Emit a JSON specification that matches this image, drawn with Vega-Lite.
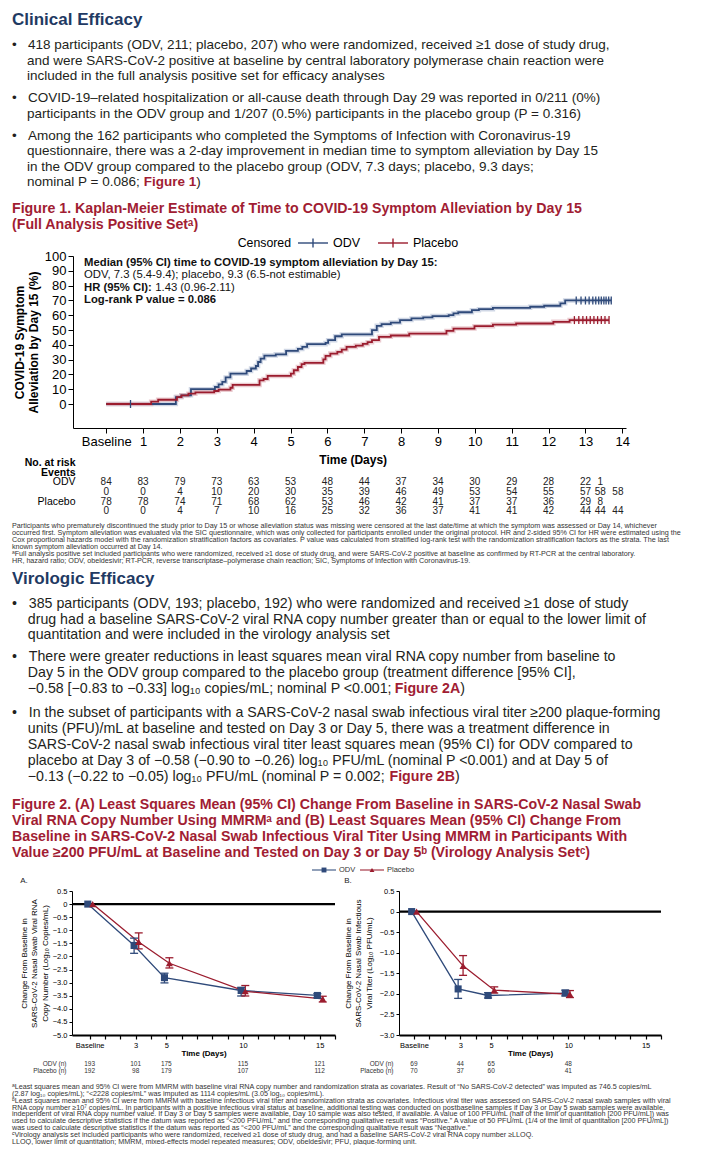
{
"$schema": "https://vega.github.io/schema/vega-lite/v6.json",
"background": "white",
"padding": {"left": 12, "top": 6, "right": 0, "bottom": 0},
"spacing": 0,
"resolve": {"scale": {"color": "independent", "shape": "independent"}, "legend": {"color": "independent", "shape": "independent"}},
"config": {
  "font": "Liberation Sans",
  "view": {"stroke": null},
  "axis": {"grid": false, "domainColor": "#000", "tickColor": "#000", "labelColor": "#000", "titleColor": "#000", "labelFont": "Liberation Sans", "titleFont": "Liberation Sans", "labelOverlap": false, "labelFlush": false},
  "legend": {"labelFont": "Liberation Sans", "titleFont": "Liberation Sans"},
  "title": {"font": "Liberation Sans"}
},
"datasets": {
  "h1": [{"i": 1, "t": "Clinical Efficacy"}],
  "p1": [
    {"i": 1, "t": "•\u00a0\u00a0\u00a0418 participants (ODV, 211; placebo, 207) who were randomized, received ≥1 dose of study drug,"},
    {"i": 2, "t": "\u200b\u00a0\u00a0\u00a0\u00a0and were SARS-CoV-2 positive at baseline by central laboratory polymerase chain reaction were"},
    {"i": 3, "t": "\u200b\u00a0\u00a0\u00a0\u00a0included in the full analysis positive set for efficacy analyses"}
  ],
  "p2": [
    {"i": 1, "t": "•\u00a0\u00a0\u00a0COVID-19–related hospitalization or all-cause death through Day 29 was reported in 0/211 (0%)"},
    {"i": 2, "t": "\u200b\u00a0\u00a0\u00a0\u00a0participants in the ODV group and 1/207 (0.5%) participants in the placebo group (P = 0.316)"}
  ],
  "p3": [
    {"i": 1, "t": "•\u00a0\u00a0\u00a0Among the 162 participants who completed the Symptoms of Infection with Coronavirus-19"},
    {"i": 2, "t": "\u200b\u00a0\u00a0\u00a0\u00a0questionnaire, there was a 2-day improvement in median time to symptom alleviation by Day 15"},
    {"i": 3, "t": "\u200b\u00a0\u00a0\u00a0\u00a0in the ODV group compared to the placebo group (ODV, 7.3 days; placebo, 9.3 days;"},
    {"i": 4, "t": "\u200b\u00a0\u00a0\u00a0\u00a0nominal P = 0.086;"}
  ],
  "f1t": [
    {"i": 1, "t": "Figure 1. Kaplan-Meier Estimate of Time to COVID-19 Symptom Alleviation by Day 15"},
    {"i": 2, "t": "(Full Analysis Positive Setᵃ)"}
  ],
  "fn1": [
    {"i": 1, "t": "Participants who prematurely discontinued the study prior to Day 15 or whose alleviation status was missing were censored at the last date/time at which the symptom was assessed or Day 14, whichever"},
    {"i": 2, "t": "occurred first. Symptom alleviation was evaluated via the SIC questionnaire, which was only collected for participants enrolled under the original protocol. HR and 2-sided 95% CI for HR were estimated using the"},
    {"i": 3, "t": "Cox proportional hazards model with the randomization stratification factors as covariates. P value was calculated from stratified log-rank test with the randomization stratification factors as the strata. The last"},
    {"i": 4, "t": "known symptom alleviation occurred at Day 14."},
    {"i": 5, "t": "ᵃFull analysis positive set included participants who were randomized, received ≥1 dose of study drug, and were SARS-CoV-2 positive at baseline as confirmed by RT-PCR at the central laboratory."},
    {"i": 6, "t": "HR, hazard ratio; ODV, obeldesivir; RT-PCR, reverse transcriptase–polymerase chain reaction; SIC, Symptoms of Infection with Coronavirus-19."}
  ],
  "h2": [{"i": 1, "t": "Virologic Efficacy"}],
  "p4": [
    {"i": 1, "t": "•\u00a0\u00a0\u00a0385 participants (ODV, 193; placebo, 192) who were randomized and received ≥1 dose of study"},
    {"i": 2, "t": "\u200b\u00a0\u00a0\u00a0\u00a0drug had a baseline SARS-CoV-2 viral RNA copy number greater than or equal to the lower limit of"},
    {"i": 3, "t": "\u200b\u00a0\u00a0\u00a0\u00a0quantitation and were included in the virology analysis set"}
  ],
  "p5": [
    {"i": 1, "t": "•\u00a0\u00a0\u00a0There were greater reductions in least squares mean viral RNA copy number from baseline to"},
    {"i": 2, "t": "\u200b\u00a0\u00a0\u00a0\u00a0Day 5 in the ODV group compared to the placebo group (treatment difference [95% CI],"},
    {"i": 3, "t": "\u200b\u00a0\u00a0\u00a0\u00a0−0.58 [−0.83 to −0.33] log₁₀ copies/mL; nominal P <0.001;"}
  ],
  "p6": [
    {"i": 1, "t": "•\u00a0\u00a0\u00a0In the subset of participants with a SARS-CoV-2 nasal swab infectious viral titer ≥200 plaque-forming"},
    {"i": 2, "t": "\u200b\u00a0\u00a0\u00a0\u00a0units (PFU)/mL at baseline and tested on Day 3 or Day 5, there was a treatment difference in"},
    {"i": 3, "t": "\u200b\u00a0\u00a0\u00a0\u00a0SARS-CoV-2 nasal swab infectious viral titer least squares mean (95% CI) for ODV compared to"},
    {"i": 4, "t": "\u200b\u00a0\u00a0\u00a0\u00a0placebo at Day 3 of −0.58 (−0.90 to −0.26) log₁₀ PFU/mL (nominal P <0.001) and at Day 5 of"},
    {"i": 5, "t": "\u200b\u00a0\u00a0\u00a0\u00a0−0.13 (−0.22 to −0.05) log₁₀ PFU/mL (nominal P = 0.002;"}
  ],
  "f2t": [
    {"i": 1, "t": "Figure 2. (A) Least Squares Mean (95% CI) Change From Baseline in SARS-CoV-2 Nasal Swab"},
    {"i": 2, "t": "Viral RNA Copy Number Using MMRMᵃ and (B) Least Squares Mean (95% CI) Change From"},
    {"i": 3, "t": "Baseline in SARS-CoV-2 Nasal Swab Infectious Viral Titer Using MMRM in Participants With"},
    {"i": 4, "t": "Value ≥200 PFU/mL at Baseline and Tested on Day 3 or Day 5ᵇ (Virology Analysis Setᶜ)"}
  ],
  "fn2": [
    {"i": 1, "t": "ᵃLeast squares mean and 95% CI were from MMRM with baseline viral RNA copy number and randomization strata as covariates. Result of “No SARS-CoV-2 detected” was imputed as 746.5 copies/mL"},
    {"i": 2, "t": "(2.87 log₁₀ copies/mL); “<2228 copies/mL” was imputed as 1114 copies/mL (3.05 log₁₀ copies/mL)."},
    {"i": 3, "t": "ᵇLeast squares mean and 95% CI were from MMRM with baseline infectious viral titer and randomization strata as covariates. Infectious viral titer was assessed on SARS-CoV-2 nasal swab samples with viral"},
    {"i": 4, "t": "RNA copy number ≥10⁷ copies/mL. In participants with a positive infectious viral status at baseline, additional testing was conducted on postbaseline samples if Day 3 or Day 5 swab samples were available,"},
    {"i": 5, "t": "independent of viral RNA copy number value. If Day 3 or Day 5 samples were available, Day 10 sample was also tested, if available. A value of 100 PFU/mL (half of the limit of quantitation [200 PFU/mL]) was"},
    {"i": 6, "t": "used to calculate descriptive statistics if the datum was reported as “<200 PFU/mL” and the corresponding qualitative result was “Positive.” A value of 50 PFU/mL (1/4 of the limit of quantitation [200 PFU/mL])"},
    {"i": 7, "t": "was used to calculate descriptive statistics if the datum was reported as “<200 PFU/mL” and the corresponding qualitative result was “Negative.”"},
    {"i": 8, "t": "ᶜVirology analysis set included participants who were randomized, received ≥1 dose of study drug, and had a baseline SARS-CoV-2 viral RNA copy number ≥LLOQ."},
    {"i": 9, "t": "LLOQ, lower limit of quantitation; MMRM, mixed-effects model repeated measures; ODV, obeldesivir; PFU, plaque-forming unit."}
  ],
  "km": [
    {"g":"ODV","t":0,"p":0},{"g":"ODV","t":1.89,"p":4.7},{"g":"ODV","t":2.04,"p":5.9},{"g":"ODV","t":2.3,"p":10},{"g":"ODV","t":2.95,"p":11.5},{"g":"ODV","t":3.05,"p":13.3},{"g":"ODV","t":3.15,"p":15},{"g":"ODV","t":3.24,"p":18},{"g":"ODV","t":3.37,"p":20.5},{"g":"ODV","t":3.81,"p":22.3},{"g":"ODV","t":3.93,"p":24},{"g":"ODV","t":4.06,"p":25.7},{"g":"ODV","t":4.12,"p":28.4},{"g":"ODV","t":4.19,"p":30.7},{"g":"ODV","t":4.29,"p":32.7},{"g":"ODV","t":4.6,"p":33.6},{"g":"ODV","t":4.88,"p":35.9},{"g":"ODV","t":5.2,"p":37.2},{"g":"ODV","t":5.32,"p":38.6},{"g":"ODV","t":5.45,"p":40.4},{"g":"ODV","t":5.95,"p":41.3},{"g":"ODV","t":6.02,"p":43.1},{"g":"ODV","t":6.21,"p":45.8},{"g":"ODV","t":6.39,"p":47},{"g":"ODV","t":7.21,"p":49.9},{"g":"ODV","t":7.34,"p":52.8},{"g":"ODV","t":7.47,"p":54},{"g":"ODV","t":7.72,"p":55},{"g":"ODV","t":7.97,"p":56.7},{"g":"ODV","t":8.28,"p":57.8},{"g":"ODV","t":8.6,"p":58.5},{"g":"ODV","t":8.85,"p":59.4},{"g":"ODV","t":9.29,"p":60},{"g":"ODV","t":9.42,"p":61.2},{"g":"ODV","t":9.55,"p":62},{"g":"ODV","t":9.92,"p":63.4},{"g":"ODV","t":10.11,"p":64.1},{"g":"ODV","t":10.49,"p":65},{"g":"ODV","t":11.5,"p":65.7},{"g":"ODV","t":11.88,"p":66.4},{"g":"ODV","t":12.32,"p":68},{"g":"ODV","t":12.45,"p":70},{"g":"ODV","t":13.7,"p":70},
    {"g":"Placebo","t":0,"p":0},{"g":"Placebo","t":1.22,"p":1.6},{"g":"Placebo","t":1.41,"p":2.9},{"g":"Placebo","t":1.92,"p":4.7},{"g":"Placebo","t":2.04,"p":5.9},{"g":"Placebo","t":2.23,"p":7},{"g":"Placebo","t":2.42,"p":7.9},{"g":"Placebo","t":2.93,"p":8.8},{"g":"Placebo","t":3.05,"p":9.7},{"g":"Placebo","t":3.37,"p":11},{"g":"Placebo","t":3.43,"p":12.9},{"g":"Placebo","t":4.16,"p":16},{"g":"Placebo","t":4.27,"p":16.9},{"g":"Placebo","t":4.38,"p":19},{"g":"Placebo","t":5.01,"p":20.5},{"g":"Placebo","t":5.09,"p":22.8},{"g":"Placebo","t":5.2,"p":25},{"g":"Placebo","t":5.3,"p":26.9},{"g":"Placebo","t":5.38,"p":27.8},{"g":"Placebo","t":5.89,"p":30.2},{"g":"Placebo","t":5.95,"p":32.5},{"g":"Placebo","t":6.08,"p":34.1},{"g":"Placebo","t":6.27,"p":35.2},{"g":"Placebo","t":6.39,"p":36.8},{"g":"Placebo","t":6.52,"p":38.6},{"g":"Placebo","t":6.77,"p":39.5},{"g":"Placebo","t":6.96,"p":40.6},{"g":"Placebo","t":7.09,"p":41.8},{"g":"Placebo","t":7.21,"p":43.1},{"g":"Placebo","t":7.4,"p":45.4},{"g":"Placebo","t":7.72,"p":46.3},{"g":"Placebo","t":8.22,"p":47.6},{"g":"Placebo","t":9.23,"p":49.4},{"g":"Placebo","t":9.42,"p":51},{"g":"Placebo","t":9.99,"p":52.6},{"g":"Placebo","t":10.49,"p":53.7},{"g":"Placebo","t":11.12,"p":54.4},{"g":"Placebo","t":12.13,"p":55.5},{"g":"Placebo","t":12.57,"p":56.7},{"g":"Placebo","t":13.64,"p":56.7}
  ],
  "kmc": [
    {"g":"ODV","t":0.66,"p":0},{"g":"ODV","t":12.75,"p":70},{"g":"ODV","t":12.88,"p":70},{"g":"ODV","t":13.0,"p":70},{"g":"ODV","t":13.1,"p":70},{"g":"ODV","t":13.2,"p":70},{"g":"ODV","t":13.28,"p":70},{"g":"ODV","t":13.36,"p":70},{"g":"ODV","t":13.43,"p":70},{"g":"ODV","t":13.5,"p":70},{"g":"ODV","t":13.56,"p":70},{"g":"ODV","t":13.63,"p":70},{"g":"ODV","t":13.7,"p":70},
    {"g":"Placebo","t":12.7,"p":56.7},{"g":"Placebo","t":12.82,"p":56.7},{"g":"Placebo","t":12.93,"p":56.7},{"g":"Placebo","t":13.03,"p":56.7},{"g":"Placebo","t":13.13,"p":56.7},{"g":"Placebo","t":13.23,"p":56.7},{"g":"Placebo","t":13.33,"p":56.7},{"g":"Placebo","t":13.43,"p":56.7},{"g":"Placebo","t":13.53,"p":56.7},{"g":"Placebo","t":13.64,"p":56.7}
  ],
  "risk": [
    {"r":"or","t":0,"v":"84"},{"r":"or","t":1,"v":"83"},{"r":"or","t":2,"v":"79"},{"r":"or","t":3,"v":"73"},{"r":"or","t":4,"v":"63"},{"r":"or","t":5,"v":"53"},{"r":"or","t":6,"v":"48"},{"r":"or","t":7,"v":"44"},{"r":"or","t":8,"v":"37"},{"r":"or","t":9,"v":"34"},{"r":"or","t":10,"v":"30"},{"r":"or","t":11,"v":"29"},{"r":"or","t":12,"v":"28"},{"r":"or","t":13,"v":"22"},{"r":"or","t":13.4,"v":"1"},
    {"r":"oe","t":0,"v":"0"},{"r":"oe","t":1,"v":"0"},{"r":"oe","t":2,"v":"4"},{"r":"oe","t":3,"v":"10"},{"r":"oe","t":4,"v":"20"},{"r":"oe","t":5,"v":"30"},{"r":"oe","t":6,"v":"35"},{"r":"oe","t":7,"v":"39"},{"r":"oe","t":8,"v":"46"},{"r":"oe","t":9,"v":"49"},{"r":"oe","t":10,"v":"53"},{"r":"oe","t":11,"v":"54"},{"r":"oe","t":12,"v":"55"},{"r":"oe","t":13,"v":"57"},{"r":"oe","t":13.4,"v":"58"},{"r":"oe","t":13.88,"v":"58"},
    {"r":"pr","t":0,"v":"78"},{"r":"pr","t":1,"v":"78"},{"r":"pr","t":2,"v":"74"},{"r":"pr","t":3,"v":"71"},{"r":"pr","t":4,"v":"68"},{"r":"pr","t":5,"v":"62"},{"r":"pr","t":6,"v":"53"},{"r":"pr","t":7,"v":"46"},{"r":"pr","t":8,"v":"42"},{"r":"pr","t":9,"v":"41"},{"r":"pr","t":10,"v":"37"},{"r":"pr","t":11,"v":"37"},{"r":"pr","t":12,"v":"36"},{"r":"pr","t":13,"v":"29"},{"r":"pr","t":13.4,"v":"8"},
    {"r":"pe","t":0,"v":"0"},{"r":"pe","t":1,"v":"0"},{"r":"pe","t":2,"v":"4"},{"r":"pe","t":3,"v":"7"},{"r":"pe","t":4,"v":"10"},{"r":"pe","t":5,"v":"16"},{"r":"pe","t":6,"v":"25"},{"r":"pe","t":7,"v":"32"},{"r":"pe","t":8,"v":"36"},{"r":"pe","t":9,"v":"37"},{"r":"pe","t":10,"v":"41"},{"r":"pe","t":11,"v":"41"},{"r":"pe","t":12,"v":"42"},{"r":"pe","t":13,"v":"44"},{"r":"pe","t":13.4,"v":"44"},{"r":"pe","t":13.88,"v":"44"}
  ],
  "va": [
    {"s":"ODV","x":-0.12,"m":0},
    {"s":"ODV","x":2.9,"m":-1.58,"lo":-1.88,"hi":-1.30},
    {"s":"ODV","x":4.88,"m":-2.81,"lo":-3.01,"hi":-2.64},
    {"s":"ODV","x":9.88,"m":-3.30,"lo":-3.51,"hi":-3.18},
    {"s":"ODV","x":14.85,"m":-3.49,"lo":-3.57,"hi":-3.42},
    {"s":"Placebo","x":0.2,"m":0},
    {"s":"Placebo","x":3.2,"m":-1.45,"lo":-1.71,"hi":-1.10},
    {"s":"Placebo","x":5.2,"m":-2.26,"lo":-2.44,"hi":-2.05},
    {"s":"Placebo","x":10.15,"m":-3.33,"lo":-3.51,"hi":-3.11},
    {"s":"Placebo","x":15.2,"m":-3.62,"lo":-3.74,"hi":-3.52}
  ],
  "vb": [
    {"s":"ODV","x":-0.15,"m":0},
    {"s":"ODV","x":2.86,"m":-1.88,"lo":-2.11,"hi":-1.65},
    {"s":"ODV","x":4.8,"m":-2.04,"lo":-2.10,"hi":-1.97},
    {"s":"ODV","x":9.8,"m":-1.98,"lo":-2.05,"hi":-1.91},
    {"s":"Placebo","x":0.17,"m":0},
    {"s":"Placebo","x":3.18,"m":-1.32,"lo":-1.55,"hi":-1.07},
    {"s":"Placebo","x":5.2,"m":-1.91,"lo":-1.98,"hi":-1.83},
    {"s":"Placebo","x":10.1,"m":-2.01,"lo":-2.09,"hi":-1.92}
  ],
  "na": [
    {"g":"ODV (n)","d":0,"n":"193"},{"g":"ODV (n)","d":3,"n":"101"},{"g":"ODV (n)","d":5,"n":"175"},{"g":"ODV (n)","d":10,"n":"115"},{"g":"ODV (n)","d":15,"n":"121"},
    {"g":"Placebo (n)","d":0,"n":"192"},{"g":"Placebo (n)","d":3,"n":"98"},{"g":"Placebo (n)","d":5,"n":"179"},{"g":"Placebo (n)","d":10,"n":"107"},{"g":"Placebo (n)","d":15,"n":"112"}
  ],
  "nb": [
    {"g":"ODV (n)","d":0,"n":"69"},{"g":"ODV (n)","d":3,"n":"44"},{"g":"ODV (n)","d":5,"n":"65"},{"g":"ODV (n)","d":10,"n":"48"},
    {"g":"Placebo (n)","d":0,"n":"70"},{"g":"Placebo (n)","d":3,"n":"37"},{"g":"Placebo (n)","d":5,"n":"60"},{"g":"Placebo (n)","d":10,"n":"41"}
  ],
  "leg1": [{"s": "Censored"}, {"s": "ODV"}, {"s": "Placebo"}],
  "leg2": [{"s": "ODV"}, {"s": "Placebo"}]
},
"vconcat": [
  {"width": 690, "height": 28, "data": {"name": "h1"},
   "mark": {"type": "text", "align": "left", "baseline": "middle", "fontSize": 17, "fontWeight": "bold", "color": "#1f3a63"},
   "encoding": {"x": {"datum": 0, "type": "quantitative", "scale": {"domain": [0, 1]}, "axis": null},
     "y": {"field": "i", "type": "ordinal", "axis": null, "scale": {"type": "band", "paddingInner": 0, "paddingOuter": 0}},
     "text": {"field": "t"}}},
  {"width": 690, "height": 53, "data": {"name": "p1"},
   "mark": {"type": "text", "align": "left", "baseline": "middle", "fontSize": 13.5, "color": "#231f20"},
   "encoding": {"x": {"datum": 0, "type": "quantitative", "scale": {"domain": [0, 1]}, "axis": null},
     "y": {"field": "i", "type": "ordinal", "axis": null, "scale": {"type": "band", "paddingInner": 0, "paddingOuter": 0.2097}},
     "text": {"field": "t"}}},
  {"width": 690, "height": 38, "data": {"name": "p2"},
   "mark": {"type": "text", "align": "left", "baseline": "middle", "fontSize": 13.5, "color": "#231f20"},
   "encoding": {"x": {"datum": 0, "type": "quantitative", "scale": {"domain": [0, 1]}, "axis": null},
     "y": {"field": "i", "type": "ordinal", "axis": null, "scale": {"type": "band", "paddingInner": 0, "paddingOuter": 0.2258}},
     "text": {"field": "t"}}},
  {"width": 690, "height": 68, "data": {"name": "p3"},
   "encoding": {"x": {"datum": 0, "type": "quantitative", "scale": {"domain": [0, 1]}, "axis": null},
     "y": {"field": "i", "type": "ordinal", "axis": null, "scale": {"type": "band", "paddingInner": 0, "paddingOuter": 0.1935}}},
   "layer": [
    {"mark": {"type": "text", "align": "left", "baseline": "middle", "fontSize": 13.5, "color": "#231f20"},
     "encoding": {"text": {"field": "t"}}},
    {"data": {"values": [{"i": 4, "t": "Figure 1"}]},
     "mark": {"type": "text", "align": "left", "baseline": "middle", "fontSize": 13.5, "fontWeight": "bold", "color": "#a11d33"},
     "encoding": {"x": {"datum": 0.1909, "type": "quantitative", "axis": null}, "text": {"field": "t"}}},
    {"data": {"values": [{"i": 4, "t": ")"}]},
     "mark": {"type": "text", "align": "left", "baseline": "middle", "fontSize": 13.5, "color": "#231f20"},
     "encoding": {"x": {"datum": 0.2670, "type": "quantitative", "axis": null}, "text": {"field": "t"}}}
   ]},
  {"width": 690, "height": 43, "data": {"name": "f1t"},
   "mark": {"type": "text", "align": "left", "baseline": "middle", "fontSize": 14.2, "fontWeight": "bold", "color": "#a11d33"},
   "encoding": {"x": {"datum": 0, "type": "quantitative", "scale": {"domain": [0, 1]}, "axis": null},
     "y": {"field": "i", "type": "ordinal", "axis": null, "scale": {"type": "band", "paddingInner": 0, "paddingOuter": 0.34375, "align": 0.727}},
     "text": {"field": "t"}}},
  {"spacing": 0,
   "hconcat": [
    {"width": 181, "height": 1, "data": {"values": []}, "mark": "point"},
    {"width": 240, "height": 14, "data": {"name": "leg1"},
     "encoding": {"x": {"field": "s", "type": "nominal", "scale": {"type": "band", "domain": ["Censored", "ODV", "Placebo"], "paddingInner": 0, "paddingOuter": 0}, "axis": null}},
     "layer": [
      {"transform": [{"filter": "datum.s != 'Censored'"}],
       "mark": {"type": "tick", "orient": "horizontal", "size": 30, "thickness": 2},
       "encoding": {"color": {"field": "s", "type": "nominal", "scale": {"domain": ["ODV", "Placebo"], "range": ["#2f4a7a", "#9b1c2e"]}, "legend": null}}},
      {"transform": [{"filter": "datum.s != 'Censored'"}],
       "mark": {"type": "tick", "orient": "vertical", "size": 9, "thickness": 2},
       "encoding": {"color": {"field": "s", "type": "nominal", "legend": null}}},
      {"transform": [{"filter": "datum.s != 'Censored'"}],
       "mark": {"type": "text", "align": "left", "dx": 20, "fontSize": 12.5, "color": "#000"},
       "encoding": {"text": {"field": "s"}}},
      {"transform": [{"filter": "datum.s == 'Censored'"}],
       "mark": {"type": "text", "align": "right", "dx": 58, "fontSize": 12.3, "color": "#000"},
       "encoding": {"text": {"field": "s"}}}
     ]}
   ]},
  {"spacing": 0,
   "hconcat": [
    {"width": 1, "height": 1, "data": {"values": []}, "mark": "point"},
    {"spacing": 5,
     "vconcat": [
      {"width": 553, "height": 172, "data": {"name": "km"},
       "resolve": {"axis": {"x": "independent", "y": "independent"}},
       "layer": [
        {"transform": [{"filter": "datum.g == 'ODV'"}],
         "mark": {"type": "line", "interpolate": "step-after", "strokeWidth": 4.5, "color": "#a9b7cf", "opacity": 0.55},
         "encoding": {"x": {"field": "t", "type": "quantitative", "axis": null}, "y": {"field": "p", "type": "quantitative", "axis": null}}},
        {"transform": [{"filter": "datum.g == 'Placebo'"}],
         "mark": {"type": "line", "interpolate": "step-after", "strokeWidth": 4.5, "color": "#dba3ab", "opacity": 0.55},
         "encoding": {"x": {"field": "t", "type": "quantitative", "axis": null}, "y": {"field": "p", "type": "quantitative", "axis": null}}},
        {"mark": {"type": "line", "interpolate": "step-after", "strokeWidth": 1.8},
         "encoding": {
          "x": {"field": "t", "type": "quantitative", "scale": {"domain": [-0.9, 14.1], "nice": false, "zero": false},
                "axis": {"values": [0,1,2,3,4,5,6,7,8,9,10,11,12,13,14], "labelExpr": "datum.value == 0 ? 'Baseline' : datum.label", "title": null, "labelFontSize": 13, "tickSize": 5, "labelPadding": 2, "labelFlush": false, "labelOverlap": false}},
          "y": {"field": "p", "type": "quantitative", "scale": {"domain": [-16.2, 100], "nice": false, "zero": false},
                "axis": {"values": [0,10,20,30,40,50,60,70,80,90,100], "title": ["COVID-19 Symptom", "Alleviation by Day 15 (%)"], "titleFontSize": 12, "titleFontWeight": "bold", "titleLineHeight": 14, "titlePadding": 4, "labelFontSize": 13, "tickSize": 5, "labelPadding": 2, "labelOverlap": false}},
          "color": {"field": "g", "type": "nominal", "scale": {"domain": ["ODV", "Placebo"], "range": ["#2f4a7a", "#9b1c2e"]}, "legend": null}}},
        {"data": {"name": "kmc"}, "transform": [{"filter": "datum.g == 'ODV'"}],
         "mark": {"type": "tick", "orient": "vertical", "size": 8, "thickness": 1.3, "color": "#2f4a7a", "opacity": 1},
         "encoding": {"x": {"field": "t", "type": "quantitative", "axis": null}, "y": {"field": "p", "type": "quantitative", "axis": null}}},
        {"data": {"name": "kmc"}, "transform": [{"filter": "datum.g == 'Placebo'"}],
         "mark": {"type": "tick", "orient": "vertical", "size": 8, "thickness": 1.3, "color": "#9b1c2e", "opacity": 1},
         "encoding": {"x": {"field": "t", "type": "quantitative", "axis": null}, "y": {"field": "p", "type": "quantitative", "axis": null}}},
        {"data": {"values": [{"lines": ["Median (95% CI) time to COVID-19 symptom alleviation by Day 15:", "\u200b", "HR (95% CI):", "Log-rank P value = 0.086"]}]},
         "mark": {"type": "text", "align": "left", "baseline": "top", "fontSize": 11.3, "fontWeight": "bold", "lineHeight": 12.5, "color": "#111"},
         "encoding": {"x": {"datum": -0.6, "type": "quantitative", "axis": null}, "y": {"datum": 99.5, "type": "quantitative", "axis": null}, "text": {"field": "lines"}}},
        {"data": {"values": [{"lines": "ODV, 7.3 (5.4-9.4); placebo, 9.3 (6.5-not estimable)"}]},
         "mark": {"type": "text", "align": "left", "baseline": "top", "fontSize": 11.3, "color": "#111"},
         "encoding": {"x": {"datum": -0.6, "type": "quantitative", "axis": null}, "y": {"datum": 91.05, "type": "quantitative", "axis": null}, "text": {"field": "lines"}}},
        {"data": {"values": [{"lines": "1.43 (0.96-2.11)"}]},
         "mark": {"type": "text", "align": "left", "baseline": "top", "fontSize": 11.3, "color": "#111"},
         "encoding": {"x": {"datum": 1.33, "type": "quantitative", "axis": null}, "y": {"datum": 82.6, "type": "quantitative", "axis": null}, "text": {"field": "lines"}}}
       ]},
      {"width": 553, "height": 58,
       "resolve": {"axis": {"x": "independent", "y": "independent"}},
       "layer": [
        {"data": {"name": "risk"},
         "mark": {"type": "text", "fontSize": 10, "color": "#222"},
         "encoding": {
          "x": {"field": "t", "type": "quantitative", "scale": {"domain": [-0.9, 14.1], "nice": false, "zero": false}, "axis": null},
          "y": {"field": "r", "type": "ordinal", "scale": {"type": "band", "domain": ["h1", "h2", "or", "oe", "pr", "pe"], "paddingInner": 0, "paddingOuter": 0},
                "axis": {"title": null, "domain": false, "ticks": false, "labelPadding": -2, "labelFontSize": 10.5,
                         "labelExpr": "datum.value == 'h1' ? 'No. at risk' : datum.value == 'h2' ? 'Events' : datum.value == 'or' ? 'ODV' : datum.value == 'pr' ? 'Placebo' : ''",
                         "labelFontWeight": {"condition": {"test": "datum.value == 'h1' || datum.value == 'h2'", "value": "bold"}, "value": "normal"}}},
          "text": {"field": "v"}}},
        {"data": {"values": [{"lab": "Time (Days)"}]},
         "mark": {"type": "text", "fontSize": 12, "fontWeight": "bold", "color": "#000", "dy": -3},
         "encoding": {"x": {"datum": 6.7, "type": "quantitative", "axis": null}, "y": {"datum": "h1", "type": "ordinal", "axis": null}, "text": {"field": "lab"}}}
       ]}
     ]}
   ]},
  {"width": 690, "height": 50, "data": {"name": "fn1"},
   "mark": {"type": "text", "align": "left", "baseline": "middle", "fontSize": 7.2, "color": "#333"},
   "encoding": {"x": {"datum": 0, "type": "quantitative", "scale": {"domain": [0, 1]}, "axis": null},
     "y": {"field": "i", "type": "ordinal", "axis": null, "scale": {"type": "band", "paddingInner": 0, "paddingOuter": 0.5, "align": 0.7}},
     "text": {"field": "t"}}},
  {"width": 690, "height": 26, "data": {"name": "h2"},
   "mark": {"type": "text", "align": "left", "baseline": "middle", "fontSize": 17, "fontWeight": "bold", "color": "#1f3a63"},
   "encoding": {"x": {"datum": 0, "type": "quantitative", "scale": {"domain": [0, 1]}, "axis": null},
     "y": {"field": "i", "type": "ordinal", "axis": null, "scale": {"type": "band", "paddingInner": 0, "paddingOuter": 0.1, "align": 0.27}},
     "text": {"field": "t"}}},
  {"width": 690, "height": 53, "data": {"name": "p4"},
   "mark": {"type": "text", "align": "left", "baseline": "middle", "fontSize": 14.2, "color": "#231f20"},
   "encoding": {"x": {"datum": 0, "type": "quantitative", "scale": {"domain": [0, 1]}, "axis": null},
     "y": {"field": "i", "type": "ordinal", "axis": null, "scale": {"type": "band", "paddingInner": 0, "paddingOuter": 0.2097}},
     "text": {"field": "t"}}},
  {"width": 690, "height": 54, "data": {"name": "p5"},
   "encoding": {"x": {"datum": 0, "type": "quantitative", "scale": {"domain": [0, 1]}, "axis": null},
     "y": {"field": "i", "type": "ordinal", "axis": null, "scale": {"type": "band", "paddingInner": 0, "paddingOuter": 0.1875}}},
   "layer": [
    {"mark": {"type": "text", "align": "left", "baseline": "middle", "fontSize": 14.2, "color": "#231f20"},
     "encoding": {"text": {"field": "t"}}},
    {"data": {"values": [{"i": 3, "t": "Figure 2A"}]},
     "mark": {"type": "text", "align": "left", "baseline": "middle", "fontSize": 14.2, "fontWeight": "bold", "color": "#a11d33"},
     "encoding": {"x": {"datum": 0.5548, "type": "quantitative", "axis": null}, "text": {"field": "t"}}},
    {"data": {"values": [{"i": 3, "t": ")"}]},
     "mark": {"type": "text", "align": "left", "baseline": "middle", "fontSize": 14.2, "color": "#231f20"},
     "encoding": {"x": {"datum": 0.6497, "type": "quantitative", "axis": null}, "text": {"field": "t"}}}
   ]},
  {"width": 690, "height": 88, "data": {"name": "p6"},
   "encoding": {"x": {"datum": 0, "type": "quantitative", "scale": {"domain": [0, 1]}, "axis": null},
     "y": {"field": "i", "type": "ordinal", "axis": null, "scale": {"type": "band", "paddingInner": 0, "paddingOuter": 0.25, "align": 0.625}}},
   "layer": [
    {"mark": {"type": "text", "align": "left", "baseline": "middle", "fontSize": 14.2, "color": "#231f20"},
     "encoding": {"text": {"field": "t"}}},
    {"data": {"values": [{"i": 5, "t": "Figure 2B"}]},
     "mark": {"type": "text", "align": "left", "baseline": "middle", "fontSize": 14.2, "fontWeight": "bold", "color": "#a11d33"},
     "encoding": {"x": {"datum": 0.5471, "type": "quantitative", "axis": null}, "text": {"field": "t"}}},
    {"data": {"values": [{"i": 5, "t": ")"}]},
     "mark": {"type": "text", "align": "left", "baseline": "middle", "fontSize": 14.2, "color": "#231f20"},
     "encoding": {"x": {"datum": 0.6420, "type": "quantitative", "axis": null}, "text": {"field": "t"}}}
   ]},
  {"width": 690, "height": 75, "data": {"name": "f2t"},
   "mark": {"type": "text", "align": "left", "baseline": "middle", "fontSize": 14.2, "fontWeight": "bold", "color": "#a11d33"},
   "encoding": {"x": {"datum": 0, "type": "quantitative", "scale": {"domain": [0, 1]}, "axis": null},
     "y": {"field": "i", "type": "ordinal", "axis": null, "scale": {"type": "band", "paddingInner": 0, "paddingOuter": 0.34375, "align": 0.818}},
     "text": {"field": "t"}}},
  {"spacing": 0,
   "hconcat": [
    {"width": 288, "height": 1, "data": {"values": []}, "mark": "point"},
    {"width": 96, "height": 14, "data": {"name": "leg2"},
     "encoding": {"x": {"field": "s", "type": "nominal", "scale": {"type": "band", "domain": ["ODV", "Placebo"], "paddingInner": 0, "paddingOuter": 0}, "axis": null}},
     "layer": [
      {"mark": {"type": "tick", "orient": "horizontal", "size": 24, "thickness": 1.5},
       "encoding": {"color": {"field": "s", "type": "nominal", "scale": {"domain": ["ODV", "Placebo"], "range": ["#2f4a7a", "#9b1c2e"]}, "legend": null}}},
      {"mark": {"type": "point", "filled": true, "size": 24, "opacity": 1},
       "encoding": {"shape": {"field": "s", "type": "nominal", "scale": {"domain": ["ODV", "Placebo"], "range": ["square", "triangle-up"]}, "legend": null},
                    "color": {"field": "s", "type": "nominal", "legend": null}}},
      {"mark": {"type": "text", "align": "left", "dx": 15, "fontSize": 7.5, "color": "#333"},
       "encoding": {"text": {"field": "s"}}}
     ]}
   ]},
  {"spacing": 7,
   "hconcat": [
    {"width": 1, "height": 1, "data": {"values": []}, "mark": "point"},
    {"spacing": 2,
     "vconcat": [
      {"width": 263, "height": 144, "data": {"name": "va"},
       "title": {"text": "A.", "anchor": "start", "frame": "bounds", "fontSize": 8, "fontWeight": "normal", "offset": 2, "color": "#222"},
       "resolve": {"axis": {"x": "independent", "y": "independent"}},
       "layer": [
        {"data": {"values": [{"z": 0}]}, "mark": {"type": "rule", "color": "#000", "strokeWidth": 2.2},
         "encoding": {"y": {"field": "z", "type": "quantitative", "axis": null}}},
        {"mark": {"type": "line", "strokeWidth": 1.3},
         "encoding": {
          "x": {"field": "x", "type": "quantitative", "scale": {"domain": [-1.15, 16], "nice": false, "zero": false},
                "axis": {"values": [0,1,2,3,4,5,6,7,8,9,10,11,12,13,14,15,16], "labelExpr": "datum.value == 0 ? 'Baseline' : (datum.value == 3 || datum.value == 5 || datum.value == 10 || datum.value == 15) ? datum.label : ''", "title": "Time (Days)", "titleFontSize": 8, "titleFontWeight": "bold", "titlePadding": 1, "labelFontSize": 7.5, "labelPadding": 2, "tickSize": 4, "domainWidth": 2, "tickWidth": 1.2, "labelFlush": false, "labelOverlap": false}},
          "y": {"field": "m", "type": "quantitative", "scale": {"domain": [-5, 0.5], "nice": false, "zero": false},
                "axis": {"values": [0.5,0,-0.5,-1,-1.5,-2,-2.5,-3,-3.5,-4,-4.5,-5], "labelExpr": "datum.value == 0 ? '0' : replace(format(datum.value, '.1f'), '-', '−')", "title": ["Change From Baseline in", "SARS-CoV-2 Nasal Swab Viral RNA", "Copy Number (Log₁₀ Copies/mL)"], "titleFontSize": 8, "titleFontWeight": "normal", "titleLineHeight": 10.5, "titlePadding": 3, "labelFontSize": 7.5, "labelPadding": 2, "tickSize": 3, "labelOverlap": false}},
          "color": {"field": "s", "type": "nominal", "scale": {"domain": ["ODV", "Placebo"], "range": ["#2f4a7a", "#9b1c2e"]}, "legend": null}}},
        {"transform": [{"filter": "datum.lo != null"}], "mark": {"type": "rule", "strokeWidth": 1.3},
         "encoding": {"x": {"field": "x", "type": "quantitative", "axis": null}, "y": {"field": "lo", "type": "quantitative", "axis": null}, "y2": {"field": "hi"}, "color": {"field": "s", "type": "nominal", "legend": null}}},
        {"transform": [{"filter": "datum.lo != null"}], "mark": {"type": "tick", "orient": "horizontal", "size": 8, "thickness": 1.3, "opacity": 1},
         "encoding": {"x": {"field": "x", "type": "quantitative", "axis": null}, "y": {"field": "lo", "type": "quantitative", "axis": null}, "color": {"field": "s", "type": "nominal", "legend": null}}},
        {"transform": [{"filter": "datum.lo != null"}], "mark": {"type": "tick", "orient": "horizontal", "size": 8, "thickness": 1.3, "opacity": 1},
         "encoding": {"x": {"field": "x", "type": "quantitative", "axis": null}, "y": {"field": "hi", "type": "quantitative", "axis": null}, "color": {"field": "s", "type": "nominal", "legend": null}}},
        {"mark": {"type": "point", "filled": true, "size": 50, "opacity": 1},
         "encoding": {"x": {"field": "x", "type": "quantitative", "axis": null}, "y": {"field": "m", "type": "quantitative", "axis": null},
                      "shape": {"field": "s", "type": "nominal", "scale": {"domain": ["ODV", "Placebo"], "range": ["square", "triangle-up"]}, "legend": null},
                      "color": {"field": "s", "type": "nominal", "legend": null}}}
       ]},
      {"width": 263, "height": 16, "data": {"name": "na"},
       "mark": {"type": "text", "fontSize": 6.5, "color": "#333"},
       "encoding": {
        "x": {"field": "d", "type": "quantitative", "scale": {"domain": [-1.15, 16], "nice": false, "zero": false}, "axis": null},
        "y": {"field": "g", "type": "nominal", "scale": {"type": "band", "domain": ["ODV (n)", "Placebo (n)"], "paddingInner": 0, "paddingOuter": 0.23, "align": 0}, "axis": {"title": null, "domain": false, "ticks": false, "labelFontSize": 6.5, "labelPadding": 6, "labelColor": "#333"}},
        "text": {"field": "n"}}}
     ]},
    {"spacing": 2,
     "vconcat": [
      {"width": 262, "height": 144, "data": {"name": "vb"},
       "title": {"text": "B.", "anchor": "start", "frame": "bounds", "fontSize": 8, "fontWeight": "normal", "offset": 2, "color": "#222"},
       "resolve": {"axis": {"x": "independent", "y": "independent"}},
       "layer": [
        {"data": {"values": [{"z": 0}]}, "mark": {"type": "rule", "color": "#000", "strokeWidth": 2.2},
         "encoding": {"y": {"field": "z", "type": "quantitative", "axis": null}}},
        {"mark": {"type": "line", "strokeWidth": 1.3},
         "encoding": {
          "x": {"field": "x", "type": "quantitative", "scale": {"domain": [-0.97, 16], "nice": false, "zero": false},
                "axis": {"values": [0,1,2,3,4,5,6,7,8,9,10,11,12,13,14,15,16], "labelExpr": "datum.value == 0 ? 'Baseline' : (datum.value == 3 || datum.value == 5 || datum.value == 10 || datum.value == 15) ? datum.label : ''", "title": "Time (Days)", "titleFontSize": 8, "titleFontWeight": "bold", "titlePadding": 1, "labelFontSize": 7.5, "labelPadding": 2, "tickSize": 4, "domainWidth": 2, "tickWidth": 1.2, "labelFlush": false, "labelOverlap": false}},
          "y": {"field": "m", "type": "quantitative", "scale": {"domain": [-3, 0.5], "nice": false, "zero": false},
                "axis": {"values": [0.5,0,-0.5,-1,-1.5,-2,-2.5,-3], "labelExpr": "datum.value == 0 ? '0' : replace(format(datum.value, '.1f'), '-', '−')", "title": ["Change From Baseline in", "SARS-CoV-2 Nasal Swab Infectious", "Viral Titer (Log₁₀ PFU/mL)"], "titleFontSize": 8, "titleFontWeight": "normal", "titleLineHeight": 10.5, "titlePadding": 6, "labelFontSize": 7.5, "labelPadding": 2, "tickSize": 3, "labelOverlap": false}},
          "color": {"field": "s", "type": "nominal", "scale": {"domain": ["ODV", "Placebo"], "range": ["#2f4a7a", "#9b1c2e"]}, "legend": null}}},
        {"transform": [{"filter": "datum.lo != null"}], "mark": {"type": "rule", "strokeWidth": 1.3},
         "encoding": {"x": {"field": "x", "type": "quantitative", "axis": null}, "y": {"field": "lo", "type": "quantitative", "axis": null}, "y2": {"field": "hi"}, "color": {"field": "s", "type": "nominal", "legend": null}}},
        {"transform": [{"filter": "datum.lo != null"}], "mark": {"type": "tick", "orient": "horizontal", "size": 8, "thickness": 1.3, "opacity": 1},
         "encoding": {"x": {"field": "x", "type": "quantitative", "axis": null}, "y": {"field": "lo", "type": "quantitative", "axis": null}, "color": {"field": "s", "type": "nominal", "legend": null}}},
        {"transform": [{"filter": "datum.lo != null"}], "mark": {"type": "tick", "orient": "horizontal", "size": 8, "thickness": 1.3, "opacity": 1},
         "encoding": {"x": {"field": "x", "type": "quantitative", "axis": null}, "y": {"field": "hi", "type": "quantitative", "axis": null}, "color": {"field": "s", "type": "nominal", "legend": null}}},
        {"mark": {"type": "point", "filled": true, "size": 50, "opacity": 1},
         "encoding": {"x": {"field": "x", "type": "quantitative", "axis": null}, "y": {"field": "m", "type": "quantitative", "axis": null},
                      "shape": {"field": "s", "type": "nominal", "scale": {"domain": ["ODV", "Placebo"], "range": ["square", "triangle-up"]}, "legend": null},
                      "color": {"field": "s", "type": "nominal", "legend": null}}}
       ]},
      {"width": 262, "height": 16, "data": {"name": "nb"},
       "mark": {"type": "text", "fontSize": 6.5, "color": "#333"},
       "encoding": {
        "x": {"field": "d", "type": "quantitative", "scale": {"domain": [-0.97, 16], "nice": false, "zero": false}, "axis": null},
        "y": {"field": "g", "type": "nominal", "scale": {"type": "band", "domain": ["ODV (n)", "Placebo (n)"], "paddingInner": 0, "paddingOuter": 0.23, "align": 0}, "axis": {"title": null, "domain": false, "ticks": false, "labelFontSize": 6.5, "labelPadding": 6, "labelColor": "#333"}},
        "text": {"field": "n"}}}
     ]}
   ]},
  {"width": 690, "height": 68, "data": {"name": "fn2"},
   "mark": {"type": "text", "align": "left", "baseline": "middle", "fontSize": 7.2, "color": "#333"},
   "encoding": {"x": {"datum": 0, "type": "quantitative", "scale": {"domain": [0, 1]}, "axis": null},
     "y": {"field": "i", "type": "ordinal", "axis": null, "scale": {"type": "band", "paddingInner": 0, "paddingOuter": 0.5, "align": 1}},
     "text": {"field": "t"}}}
]
}
